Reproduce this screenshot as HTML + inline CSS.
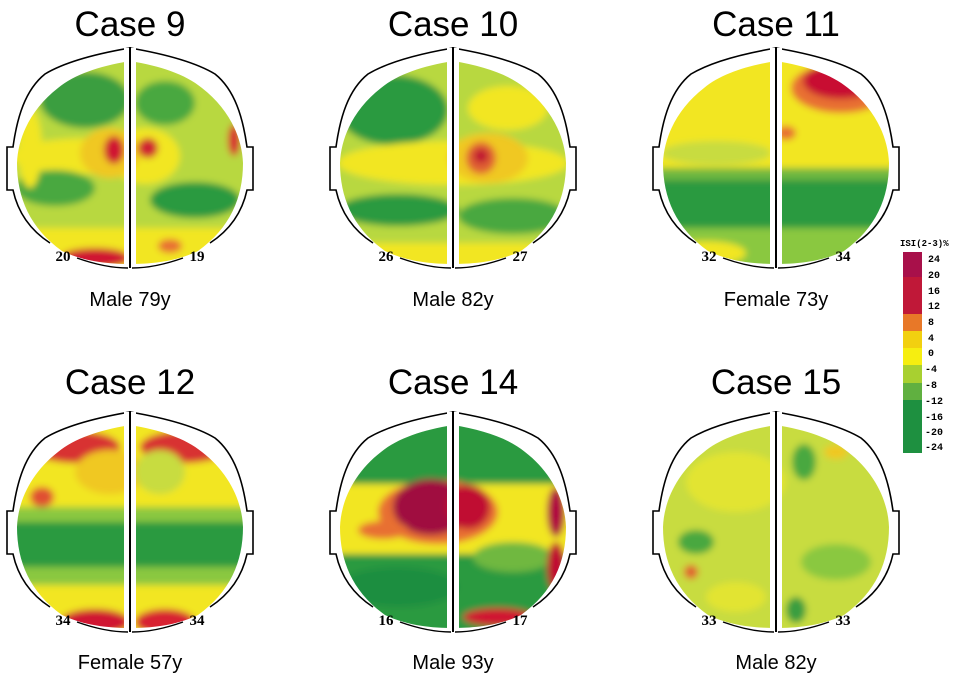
<!DOCTYPE html>
<html><head><meta charset="utf-8"><style>
body{margin:0;background:#fff;width:961px;height:673px;overflow:hidden}
svg{display:block}
.t{font-family:"Liberation Sans",sans-serif;font-size:35px;text-anchor:middle;fill:#000}
.l{font-family:"Liberation Sans",sans-serif;font-size:20px;text-anchor:middle;fill:#000}
.n{font-family:"Liberation Serif",serif;font-size:15px;font-weight:bold;text-anchor:middle;fill:#000}
.g{font-family:"Liberation Mono",monospace;font-size:10px;font-weight:bold;fill:#000}
</style></head><body>
<svg width="961" height="673" viewBox="0 0 961 673">
<defs>
<path id="hd" d="M0,0 C-35,6 -65,14 -85,26 C-105,42 -113,70 -117,99 L-123,99 L-123,142 L-117,142 C-112,165 -100,182 -80,195 M80,195 C100,182 112,165 117,142 L123,142 L123,99 L117,99 C113,70 105,42 85,26 C65,14 35,6 0,0"/>
<clipPath id="cp"><path d="M0,13 C-30,18 -55,26 -72,40 C-98,60 -112,88 -113,115 C-113,150 -100,180 -68,203 C-45,214 -20,216 0,216 C20,216 45,214 68,203 C100,180 113,150 113,115 C112,88 98,60 72,40 C55,26 30,18 0,13Z"/></clipPath>
<filter id="bl" x="-20%" y="-20%" width="140%" height="140%"><feGaussianBlur stdDeviation="3.5"/></filter>
</defs>
<g>
<!-- Case 9 -->
<g transform="translate(130,48)">
<g clip-path="url(#cp)"><g filter="url(#bl)">
<rect x="-130" y="0" width="260" height="230" fill="#b8d840"/>
<ellipse cx="-45" cy="52" rx="45" ry="28" fill="#3a9e40"/>
<ellipse cx="35" cy="55" rx="30" ry="22" fill="#4aa840"/>
<ellipse cx="-40" cy="108" rx="80" ry="18" fill="#f2e620"/>
<ellipse cx="15" cy="108" rx="35" ry="28" fill="#f2e620"/>
<ellipse cx="-20" cy="105" rx="30" ry="25" fill="#f0c820"/>
<ellipse cx="-16" cy="102" rx="10" ry="14" fill="#d01830"/>
<ellipse cx="18" cy="100" rx="10" ry="10" fill="#d02030"/>
<ellipse cx="-75" cy="140" rx="40" ry="18" fill="#4aa840"/>
<ellipse cx="65" cy="152" rx="45" ry="18" fill="#2a9a40"/>
<ellipse cx="104" cy="92" rx="6" ry="16" fill="#d82030"/>
<ellipse cx="-100" cy="100" rx="12" ry="40" fill="#f2e620"/>
<rect x="-120" y="180" width="240" height="50" fill="#f2e620"/>
<ellipse cx="-35" cy="210" rx="35" ry="10" fill="#d01830"/>
<ellipse cx="40" cy="198" rx="12" ry="7" fill="#e87030"/>
</g></g>
</g>
<!-- Case 10 -->
<g transform="translate(453,48)">
<g clip-path="url(#cp)"><g filter="url(#bl)">
<rect x="-130" y="0" width="260" height="230" fill="#b8d840"/>
<ellipse cx="-60" cy="62" rx="55" ry="35" fill="#2a9a40"/>
<ellipse cx="55" cy="60" rx="40" ry="22" fill="#f2e620"/>
<ellipse cx="0" cy="115" rx="115" ry="22" fill="#f2e620"/>
<ellipse cx="35" cy="110" rx="40" ry="25" fill="#f0c820"/>
<ellipse cx="28" cy="110" rx="15" ry="16" fill="#e06030"/>
<ellipse cx="28" cy="108" rx="7" ry="7" fill="#c01030"/>
<ellipse cx="-55" cy="162" rx="60" ry="16" fill="#2a9a40"/>
<ellipse cx="60" cy="168" rx="55" ry="18" fill="#4aa840"/>
<rect x="-120" y="195" width="240" height="40" fill="#f2e620"/>
</g></g>
</g>
<!-- Case 11 -->
<g transform="translate(776,48)">
<g clip-path="url(#cp)"><g filter="url(#bl)">
<rect x="-130" y="0" width="260" height="230" fill="#f2e620"/>
<ellipse cx="65" cy="40" rx="50" ry="25" fill="#e87030"/>
<ellipse cx="65" cy="33" rx="38" ry="18" fill="#c81030"/>
<ellipse cx="10" cy="85" rx="10" ry="7" fill="#e87030"/>
<ellipse cx="-60" cy="105" rx="55" ry="12" fill="#c8dc40"/>
<rect x="-130" y="120" width="260" height="15" fill="#70b840"/>
<rect x="-130" y="132" width="260" height="50" fill="#2a9a40"/>
<rect x="-130" y="180" width="260" height="50" fill="#8ac840"/>
<ellipse cx="-70" cy="205" rx="40" ry="12" fill="#f2e620"/>
</g></g>
</g>
<!-- Case 12 -->
<g transform="translate(130,412)">
<g clip-path="url(#cp)"><g filter="url(#bl)">
<rect x="-130" y="0" width="260" height="230" fill="#f2e620"/>
<ellipse cx="-55" cy="35" rx="45" ry="16" fill="#d83030"/>
<ellipse cx="55" cy="35" rx="45" ry="16" fill="#d83030"/>
<ellipse cx="-20" cy="60" rx="35" ry="22" fill="#f0c820"/>
<ellipse cx="30" cy="60" rx="25" ry="22" fill="#c8dc40"/>
<ellipse cx="-88" cy="85" rx="12" ry="10" fill="#e05030"/>
<rect x="-130" y="95" width="260" height="18" fill="#8ac840"/>
<rect x="-130" y="110" width="260" height="45" fill="#2a9a40"/>
<rect x="-130" y="155" width="260" height="18" fill="#8ac840"/>
<ellipse cx="-35" cy="210" rx="35" ry="13" fill="#d01830"/>
<ellipse cx="35" cy="210" rx="30" ry="13" fill="#d82030"/>
</g></g>
</g>
<!-- Case 14 -->
<g transform="translate(453,412)">
<g clip-path="url(#cp)"><g filter="url(#bl)">
<rect x="-130" y="0" width="260" height="230" fill="#2a9a40"/>
<rect x="-130" y="72" width="260" height="70" fill="#f2e620"/>
<ellipse cx="-15" cy="100" rx="60" ry="32" fill="#e87030"/>
<ellipse cx="-22" cy="95" rx="38" ry="28" fill="#a01040"/>
<ellipse cx="15" cy="95" rx="22" ry="22" fill="#c01030"/>
<ellipse cx="-70" cy="118" rx="25" ry="9" fill="#e87030"/>
<ellipse cx="60" cy="145" rx="40" ry="15" fill="#70b840"/>
<ellipse cx="103" cy="100" rx="9" ry="25" fill="#b01040"/>
<ellipse cx="103" cy="155" rx="9" ry="25" fill="#c01030"/>
<ellipse cx="-55" cy="175" rx="60" ry="20" fill="#1e8e40"/>
<ellipse cx="45" cy="205" rx="35" ry="9" fill="#d01830"/>
</g></g>
</g>
<!-- Case 15 -->
<g transform="translate(776,412)">
<g clip-path="url(#cp)"><g filter="url(#bl)">
<rect x="-130" y="0" width="260" height="230" fill="#c8dc40"/>
<ellipse cx="-40" cy="70" rx="50" ry="30" fill="#e2e430"/>
<ellipse cx="28" cy="50" rx="12" ry="18" fill="#4aa840"/>
<ellipse cx="60" cy="40" rx="12" ry="7" fill="#f0c820"/>
<ellipse cx="-80" cy="130" rx="18" ry="12" fill="#4aa840"/>
<ellipse cx="-85" cy="160" rx="7" ry="7" fill="#e06030"/>
<ellipse cx="60" cy="150" rx="35" ry="18" fill="#8ac840"/>
<ellipse cx="20" cy="198" rx="10" ry="13" fill="#3a9e40"/>
<ellipse cx="-40" cy="185" rx="30" ry="15" fill="#e2e430"/>
</g></g>
</g>
</g>
<g fill="none" stroke="#000" stroke-width="1.6">
<use href="#hd" x="130" y="48"/><use href="#hd" x="453" y="48"/><use href="#hd" x="776" y="48"/>
<use href="#hd" x="130" y="412"/><use href="#hd" x="453" y="412"/><use href="#hd" x="776" y="412"/>
</g>
<g fill="#fff">
<rect x="124" y="48" width="12" height="222"/><rect x="447" y="48" width="12" height="222"/><rect x="770" y="48" width="12" height="222"/>
<rect x="124" y="412" width="12" height="222"/><rect x="447" y="412" width="12" height="222"/><rect x="770" y="412" width="12" height="222"/>
</g>
<g stroke="#000" stroke-width="2">
<line x1="130" y1="47" x2="130" y2="268"/><line x1="453" y1="47" x2="453" y2="268"/><line x1="776" y1="47" x2="776" y2="268"/>
<line x1="130" y1="411" x2="130" y2="632"/><line x1="453" y1="411" x2="453" y2="632"/><line x1="776" y1="411" x2="776" y2="632"/>
</g>
<g fill="none" stroke="#000" stroke-width="1.4">
<path d="M77,258 Q105,268 128,268 M132,268 Q155,268 183,258"/>
<path d="M400,258 Q428,268 451,268 M455,268 Q478,268 506,258"/>
<path d="M723,258 Q751,268 774,268 M778,268 Q801,268 829,258"/>
<path d="M77,622 Q105,632 128,632 M132,632 Q155,632 183,622"/>
<path d="M400,622 Q428,632 451,632 M455,632 Q478,632 506,622"/>
<path d="M723,622 Q751,632 774,632 M778,632 Q801,632 829,622"/>
</g>
<text class="t" x="130" y="36">Case 9</text>
<text class="t" x="453" y="36">Case 10</text>
<text class="t" x="776" y="36">Case 11</text>
<text class="t" x="130" y="394">Case 12</text>
<text class="t" x="453" y="394">Case 14</text>
<text class="t" x="776" y="394">Case 15</text>
<text class="l" x="130" y="306">Male 79y</text>
<text class="l" x="453" y="306">Male 82y</text>
<text class="l" x="776" y="306">Female 73y</text>
<text class="l" x="130" y="669">Female 57y</text>
<text class="l" x="453" y="669">Male 93y</text>
<text class="l" x="776" y="669">Male 82y</text>
<text class="n" x="63" y="261">20</text><text class="n" x="197" y="261">19</text>
<text class="n" x="386" y="261">26</text><text class="n" x="520" y="261">27</text>
<text class="n" x="709" y="261">32</text><text class="n" x="843" y="261">34</text>
<text class="n" x="63" y="625">34</text><text class="n" x="197" y="625">34</text>
<text class="n" x="386" y="625">16</text><text class="n" x="520" y="625">17</text>
<text class="n" x="709" y="625">33</text><text class="n" x="843" y="625">33</text>
<text class="g" x="900" y="246" style="font-size:9px">ISI(2-3)%</text>
<rect x="903" y="252" width="19" height="62" fill="#c01838"/>
<rect x="903" y="252" width="19" height="25" fill="#a8104a"/>
<rect x="903" y="314" width="19" height="17" fill="#e87828"/>
<rect x="903" y="331" width="19" height="17" fill="#f2d010"/>
<rect x="903" y="348" width="19" height="17" fill="#f6ee10"/>
<rect x="903" y="365" width="19" height="18" fill="#a8d030"/>
<rect x="903" y="383" width="19" height="17" fill="#60b040"/>
<rect x="903" y="400" width="19" height="53" fill="#1e9040"/>
<g class="g">
<text x="928" y="262">24</text><text x="928" y="278">20</text><text x="928" y="294">16</text>
<text x="928" y="309">12</text><text x="928" y="325">8</text><text x="928" y="341">4</text>
<text x="928" y="356">0</text><text x="925" y="372">-4</text><text x="925" y="388">-8</text>
<text x="925" y="404">-12</text><text x="925" y="420">-16</text><text x="925" y="435">-20</text>
<text x="925" y="450">-24</text>
</g>
</svg>
</body></html>
